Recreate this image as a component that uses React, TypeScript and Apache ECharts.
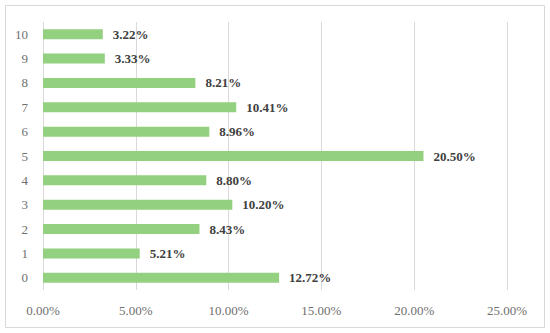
import React, { useEffect, useRef } from "react";
import * as echarts from "echarts";

const categories = ["0", "1", "2", "3", "4", "5", "6", "7", "8", "9", "10"];
const values = [12.72, 5.21, 8.43, 10.2, 8.8, 20.5, 8.96, 10.41, 8.21, 3.33, 3.22];
const xTicks = { min: 0, max: 25, interval: 5 };

const FONT = "'Liberation Serif', 'DejaVu Serif', serif";

export default function App() {
  const ref = useRef<HTMLDivElement>(null);
  useEffect(() => {
    const chart = echarts.init(ref.current!, null, { renderer: "svg" });
    chart.setOption({
      animation: false,
      backgroundColor: "#ffffff",
      graphic: [
        {
          type: "rect",
          shape: { x: 5.5, y: 5.5, width: 539, height: 322 },
          style: { fill: "none", stroke: "#d9d9d9", lineWidth: 1 },
          silent: true,
        },
      ],
      grid: { left: 43, right: 43, top: 22, bottom: 43, containLabel: false },
      xAxis: {
        type: "value",
        min: xTicks.min,
        max: xTicks.max,
        interval: xTicks.interval,
        axisLine: { show: false },
        axisTick: { show: false },
        splitLine: { show: true, lineStyle: { color: "#d9d9d9", width: 1 } },
        axisLabel: {
          formatter: (v: number) => v.toFixed(2) + "%",
          color: "#6f6f6f",
          fontFamily: FONT,
          fontSize: 13,
          margin: 14,
        },
      },
      yAxis: {
        type: "category",
        data: categories,
        axisLine: { show: false },
        axisTick: { show: false },
        axisLabel: {
          color: "#6f6f6f",
          fontFamily: FONT,
          fontSize: 13,
          margin: 15,
        },
      },
      series: [
        {
          type: "bar",
          data: values,
          barWidth: 10,
          itemStyle: { color: "#93d07f" },
          label: {
            show: true,
            position: "right",
            distance: 10,
            formatter: (p: any) => p.value.toFixed(2) + "%",
            color: "#404040",
            fontWeight: "bold",
            fontFamily: FONT,
            fontSize: 13,
          },
        },
      ],
    });
    return () => chart.dispose();
  }, []);
  return (
    <div
      ref={ref}
      style={{ position: "fixed", left: 0, top: 0, width: 550, height: 333 }}
    />
  );
}
